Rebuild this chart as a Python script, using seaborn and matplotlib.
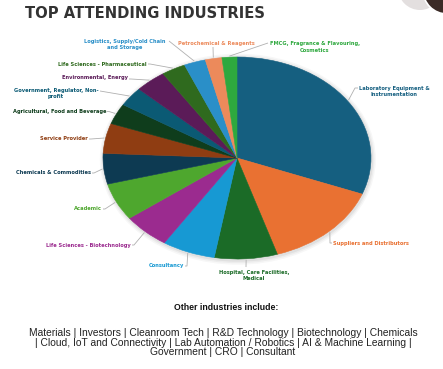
import matplotlib
matplotlib.use("Agg")
import matplotlib.pyplot as plt
from matplotlib.patches import Ellipse
import numpy as np
import seaborn as sns

# ─────────────────────────────────────────
# Data
# ─────────────────────────────────────────
industries = [
    "Laboratory Equipment &\nInstrumentation",
    "Suppliers and Distributors",
    "Hospital, Care Facilities,\nMedical",
    "Consultancy",
    "Life Sciences - Biotechnology",
    "Academic",
    "Chemicals & Commodities",
    "Service Provider",
    "Agricultural, Food and Beverage",
    "Government, Regulator, Non-\nprofit",
    "Environmental, Energy",
    "Life Sciences - Pharmaceutical",
    "Logistics, Supply/Cold Chain\nand Storage",
    "Petrochemical & Reagents",
    "FMCG, Fragrance & Flavouring,\nCosmetics",
]
shares = [30.8, 14.3, 7.6, 6.4, 5.7, 6.0, 4.9, 4.8, 3.3, 3.1, 3.75, 2.9, 2.6, 2.0, 1.8]
slice_colors = [
    "#155f80", "#e97132", "#1b6b27", "#1799d3", "#9b2b8f", "#4ea72e",
    "#0d3a52", "#8f3d12", "#0f3d1c", "#0b5a74", "#5b1b58", "#2f6a1e",
    "#2a8fc8", "#ec8a5b", "#2ea83e",
]
other_industries = ("Materials | Investors | Cleanroom Tech | R&D Technology | Biotechnology | Chemicals\n"
                    "| Cloud, IoT and Connectivity | Lab Automation / Robotics | AI & Machine Learning |\n"
                    "Government | CRO | Consultant")

# ─────────────────────────────────────────
# Layout (pixels of the 443x369 canvas)
# ─────────────────────────────────────────
W, H = 443, 369
CX, CY, RX, RY = 237, 158, 134, 101

def P(px, py):
    # pixel -> data coords (pie radius = 1 in both directions)
    return (px - CX) / RX, (CY - py) / RY

# text x, text y, ha, knee x, knee y
label_layout = [
    (359, 91.5, "left", 355, 88),
    (333, 243, "left", 330, 243),
    (254, 275.5, "center", 246, 267),
    (184, 266, "right", 187, 266),
    (131, 245, "right", 134, 245),
    (102, 209, "right", 105, 209),
    (91, 173, "right", 94, 173),
    (88, 139, "right", 91, 139),
    (106, 111.5, "right", 109, 111.5),
    (56, 93.5, "center", 100, 91),
    (128, 78, "right", 131, 79),
    (147, 64, "right", 150, 64),
    (125, 44.5, "center", 169, 41),
    (216, 43, "center", 213, 47),
    (315, 47, "center", 268, 43),
]

sns.set_theme(style="white")
plt.rcParams["font.family"] = ["DejaVu Sans"]

fig = plt.figure(figsize=(W / 100, H / 100), dpi=100)
ax = fig.add_axes([0, 0, 1, 1])

palette = sns.color_palette(slice_colors)
wedges, _ = ax.pie(shares, colors=palette, startangle=90, counterclock=False,
                   wedgeprops=dict(linewidth=0.4))
for w, c in zip(wedges, slice_colors):
    w.set_edgecolor(c)
ax.set_aspect("auto")
ax.set_xlim(-CX / RX, (W - CX) / RX)
ax.set_ylim(-(H - CY) / RY, CY / RY)
ax.axis("off")

# soft shadow under the pie
for k, a in enumerate([0.05, 0.04, 0.03]):
    ax.add_patch(Ellipse((0.006, -0.012), 2 + 0.02 * (k + 1), 2 + 0.03 * (k + 1),
                         color="#000000", alpha=a, lw=0, zorder=0))

# labels + leader lines
for w, name, col, lay in zip(wedges, industries, slice_colors, label_layout):
    tx, ty, ha, kx, ky = lay
    mid = np.deg2rad((w.theta1 + w.theta2) / 2)
    ex, ey = 1.01 * np.cos(mid), 1.01 * np.sin(mid)
    kxd, kyd = P(kx, ky)
    if ha == "left":
        end = P(tx - 1, ky)
    elif ha == "right":
        end = P(tx + 1, ky)
    else:
        end = P(kx, ky)
    ax.plot([ex, kxd, end[0]], [ey, kyd, end[1]], color="#b0b0b0", lw=0.6,
            solid_capstyle="butt", zorder=1)
    x, y = P(tx, ty)
    ax.text(x, y, name, color=col, fontsize=3.7, fontweight="bold",
            ha=ha, va="center", multialignment="center", linespacing=1.25)

# title
fig.text(25 / W, 1 - 13 / H, "TOP ATTENDING INDUSTRIES", fontsize=10.6,
         fontweight="heavy", color="#333333", ha="left", va="center")

# corner decoration
ax.add_patch(Ellipse(P(420, -12), 44 / RX, 44 / RY, color="#e3dfdf", lw=0, clip_on=False))
ax.add_patch(Ellipse(P(447, -10), 48 / RX, 48 / RY, facecolor="#3b2b27",
                     edgecolor="white", lw=1.2, clip_on=False))

# footnote
fig.text(226 / W, 1 - 307 / H, "Other industries include:", fontsize=6.3,
         fontweight="bold", color="#111111", ha="center", va="center",
         family="Liberation Sans")
fig.text(223 / W, 1 - 342.5 / H, other_industries, fontsize=7.4, color="#222222",
         ha="center", va="center", linespacing=0.95, family="Liberation Sans")

fig.savefig("out.png", dpi=100, facecolor="white")
